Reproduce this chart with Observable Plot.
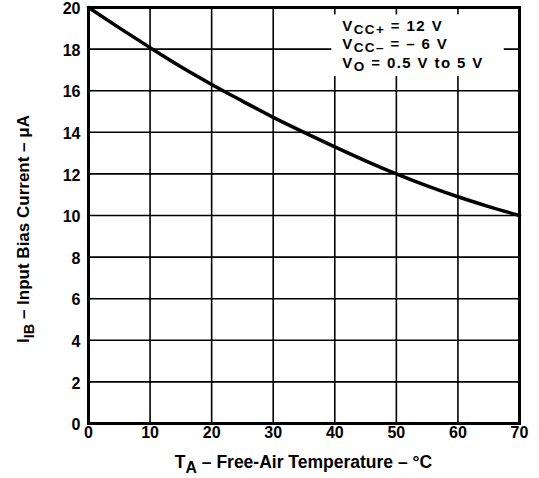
<!DOCTYPE html>
<html>
<head>
<meta charset="utf-8">
<script src="https://cdn.jsdelivr.net/npm/d3@7"></script>
<script src="https://cdn.jsdelivr.net/npm/@observablehq/plot@0.6"></script>
<style>
  html, body { margin: 0; padding: 0; background: #fff; }
  svg { display: block; }
</style>
</head>
<body>
<div id="chart"></div>
<script>
const temperature = [0, 5, 10, 15, 20, 25, 30, 35, 40, 45, 50, 55, 60, 65, 70];
const biasCurrent = [20, 19.02, 18.07, 17.15, 16.3, 15.5, 14.72, 14.0, 13.3, 12.63, 12.0, 11.42, 10.9, 10.43, 10.0];
const xTicks = [0, 10, 20, 30, 40, 50, 60, 70];
const yTicks = [0, 2, 4, 6, 8, 10, 12, 14, 16, 18, 20];
const xLabel = [["T", ""], ["A", "sub"], [" – Free-Air Temperature – °C", ""]];
const yLabel = [["I", ""], ["IB", "sub"], [" – Input Bias Current – μA", ""]];
const conditions = [
  [["V", ""], ["CC+", "sub"], [" = 12 V", ""]],
  [["V", ""], ["CC–", "sub"], [" = – 6 V", ""]],
  [["V", ""], ["O", "sub"], [" = 0.5 V to 5 V", ""]]
];

const data = temperature.map((t, i) => ({t, i: biasCurrent[i]}));
const font = "'Liberation Sans', Arial, Helvetica, sans-serif";

const chart = Plot.plot({
  width: 539,
  height: 478,
  marginLeft: 88,
  marginRight: 20,
  marginTop: 7,
  marginBottom: 55,
  style: {fontFamily: font, fontSize: "16px", fontWeight: "bold", background: "#fff", color: "#000", overflow: "visible"},
  x: {domain: [0, 70], label: null},
  y: {domain: [0, 20], label: null},
  marks: [
    Plot.gridX(xTicks, {stroke: "#000", strokeOpacity: 1, strokeWidth: 1.6}),
    Plot.gridY(yTicks, {stroke: "#000", strokeOpacity: 1, strokeWidth: 1.6}),
    Plot.line(data, {x: "t", y: "i", curve: "monotone-x", stroke: "#000", strokeWidth: 3.5}),
    Plot.frame({stroke: "#000", strokeWidth: 3}),
    Plot.axisX(xTicks, {tickSize: 0, tickPadding: 3, fontSize: 16, fontWeight: "bold", label: null}),
    Plot.axisY(yTicks, {tickSize: 0, tickPadding: 8, dy: 1.5, fontSize: 16, fontWeight: "bold", label: null})
  ]
});
document.getElementById("chart").appendChild(chart);

const svg = d3.select(chart);
const sx = chart.scale("x"), sy = chart.scale("y");

function addRich(g, parts, size, subScale, shift) {
  let shifted = false;
  parts.forEach(([txt, kind]) => {
    const ts = g.append("tspan").text(txt);
    if (kind === "sub") {
      ts.attr("font-size", size * subScale).attr("dy", size * shift);
      shifted = true;
    } else if (shifted) {
      ts.attr("dy", -size * shift);
      shifted = false;
    }
  });
}

// condition annotation with white background (drawn under the frame edges)
const ann = svg.insert("g", "g[aria-label='frame']")
  .attr("font-family", font).attr("font-weight", "bold").attr("font-size", 15)
  .attr("text-anchor", "start").attr("letter-spacing", 1.4);
const annX = sx.apply(40) + 8;
const bg = ann.append("rect").attr("fill", "#fff");
conditions.forEach((line, k) => {
  const t = ann.append("text").attr("x", annX).attr("y", sy.apply(18.85) + k * 18.5).attr("text-anchor", "start");
  addRich(t, line, 15, 0.9, 0.18);
});
const bb = ann.node().getBBox();
bg.attr("x", bb.x - 11).attr("y", bb.y - 2.5).attr("width", bb.width + 31).attr("height", bb.height + 5);

// axis titles
const xt = svg.append("text")
  .attr("x", (sx.range[0] + sx.range[1]) / 2)
  .attr("y", 468)
  .attr("text-anchor", "middle")
  .attr("font-family", font).attr("font-weight", "bold").attr("font-size", 17.5);
addRich(xt, xLabel, 17.5, 0.9, 0.3);

const yt = svg.append("text")
  .attr("transform", `translate(29,${(sy.range[0] + sy.range[1]) / 2 + 14}) rotate(-90)`)
  .attr("text-anchor", "middle")
  .attr("font-family", font).attr("font-weight", "bold").attr("font-size", 17);
addRich(yt, yLabel, 17, 0.85, 0.3);
</script>
</body>
</html>
